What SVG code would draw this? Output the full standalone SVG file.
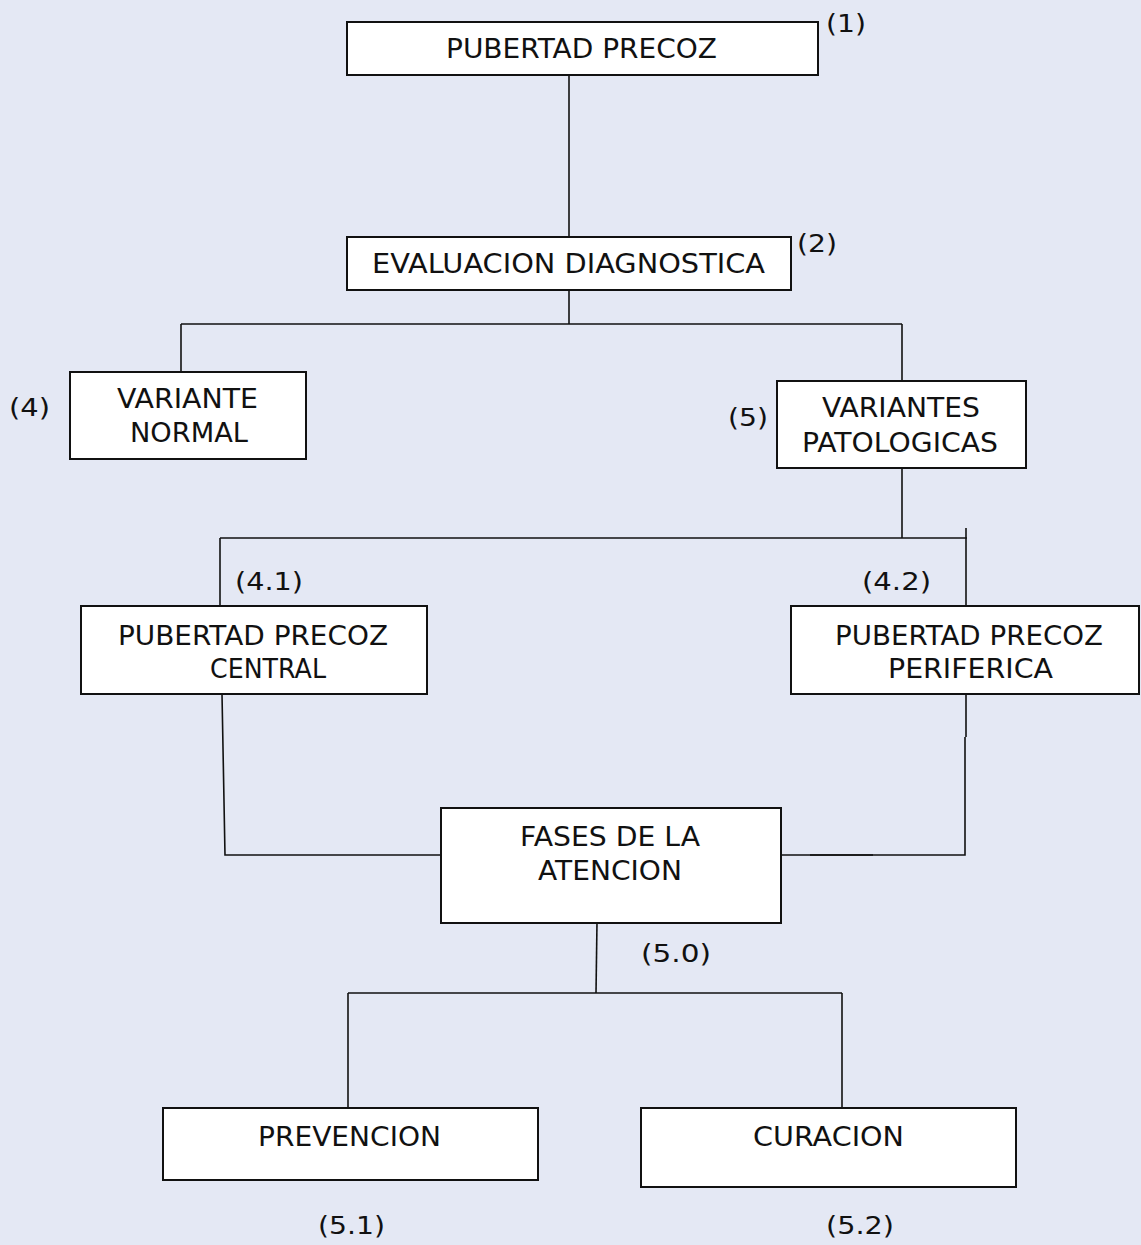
<svg xmlns="http://www.w3.org/2000/svg" width="1141" height="1245" viewBox="0 0 1141 1245">
  <style>
    .box { fill: #ffffff; stroke: #111111; stroke-width: 2; }
    .wire { fill: none; stroke: #111111; stroke-width: 1.6; }
    text { font-family: "DejaVu Sans", Verdana, sans-serif; font-size: 26px; fill: #111111; }
    .tag { font-size: 25px; }
  </style>
  <rect x="0" y="0" width="1141" height="1245" fill="#e4e8f4"/>

  <g id="connectors">
    <path class="wire" d="M569 74 V237"/>
    <path class="wire" d="M569 290 V324"/>
    <path class="wire" d="M181 324 H902"/>
    <path class="wire" d="M181 324 V372"/>
    <path class="wire" d="M902 324 V381"/>
    <path class="wire" d="M902 468 V538"/>
    <path class="wire" d="M220 538 H967"/>
    <path class="wire" d="M220 538 V606"/>
    <path class="wire" d="M966 528 V606"/>
    <path class="wire" d="M222 694 L225 855 H441"/>
    <path class="wire" d="M966 694 V737 M965 737 V855 H781"/>
    <path class="wire" d="M810 855 H873" stroke-width="2.6"/>
    <path class="wire" d="M597 922 L596 993"/>
    <path class="wire" d="M348 993 H842"/>
    <path class="wire" d="M348 993 V1108"/>
    <path class="wire" d="M842 993 V1108"/>
  </g>

  <g id="pubertad-precoz">
    <rect class="box" x="347" y="22" width="471" height="53"/>
    <text x="446" y="58" textLength="271" lengthAdjust="spacingAndGlyphs">PUBERTAD PRECOZ</text>
    <text class="tag" x="826" y="32" textLength="40" lengthAdjust="spacingAndGlyphs">(1)</text>
  </g>

  <g id="evaluacion-diagnostica">
    <rect class="box" x="347" y="237" width="444" height="53"/>
    <text x="372" y="273" textLength="393" lengthAdjust="spacingAndGlyphs">EVALUACION DIAGNOSTICA</text>
    <text class="tag" x="797" y="252" textLength="40" lengthAdjust="spacingAndGlyphs">(2)</text>
  </g>

  <g id="variante-normal">
    <rect class="box" x="70" y="372" width="236" height="87"/>
    <text x="117" y="408" textLength="141" lengthAdjust="spacingAndGlyphs">VARIANTE</text>
    <text x="130" y="442" textLength="118" lengthAdjust="spacingAndGlyphs">NORMAL</text>
    <text class="tag" x="9" y="416" textLength="41" lengthAdjust="spacingAndGlyphs">(4)</text>
  </g>

  <g id="variantes-patologicas">
    <rect class="box" x="777" y="381" width="249" height="87"/>
    <text x="822" y="417" textLength="158" lengthAdjust="spacingAndGlyphs">VARIANTES</text>
    <text x="802" y="452" textLength="196" lengthAdjust="spacingAndGlyphs">PATOLOGICAS</text>
    <text class="tag" x="728" y="426" textLength="40" lengthAdjust="spacingAndGlyphs">(5)</text>
  </g>

  <g id="pubertad-precoz-central">
    <rect class="box" x="81" y="606" width="346" height="88"/>
    <text x="118" y="645" textLength="270" lengthAdjust="spacingAndGlyphs">PUBERTAD PRECOZ</text>
    <text x="210" y="678" textLength="116" lengthAdjust="spacingAndGlyphs">CENTRAL</text>
    <text class="tag" x="235" y="590" textLength="68" lengthAdjust="spacingAndGlyphs">(4.1)</text>
  </g>

  <g id="pubertad-precoz-periferica">
    <rect class="box" x="791" y="606" width="348" height="88"/>
    <text x="835" y="645" textLength="268" lengthAdjust="spacingAndGlyphs">PUBERTAD PRECOZ</text>
    <text x="888" y="678" textLength="165" lengthAdjust="spacingAndGlyphs">PERIFERICA</text>
    <text class="tag" x="862" y="590" textLength="69" lengthAdjust="spacingAndGlyphs">(4.2)</text>
  </g>

  <g id="fases-de-la-atencion">
    <rect class="box" x="441" y="808" width="340" height="115"/>
    <text x="520" y="846" textLength="180" lengthAdjust="spacingAndGlyphs">FASES DE LA</text>
    <text x="538" y="880" textLength="144" lengthAdjust="spacingAndGlyphs">ATENCION</text>
    <text class="tag" x="641" y="962" textLength="70" lengthAdjust="spacingAndGlyphs">(5.0)</text>
  </g>

  <g id="prevencion">
    <rect class="box" x="163" y="1108" width="375" height="72"/>
    <text x="258" y="1146" textLength="183" lengthAdjust="spacingAndGlyphs">PREVENCION</text>
    <text class="tag" x="318" y="1234" textLength="67" lengthAdjust="spacingAndGlyphs">(5.1)</text>
  </g>

  <g id="curacion">
    <rect class="box" x="641" y="1108" width="375" height="79"/>
    <text x="753" y="1146" textLength="151" lengthAdjust="spacingAndGlyphs">CURACION</text>
    <text class="tag" x="826" y="1234" textLength="68" lengthAdjust="spacingAndGlyphs">(5.2)</text>
  </g>
</svg>
